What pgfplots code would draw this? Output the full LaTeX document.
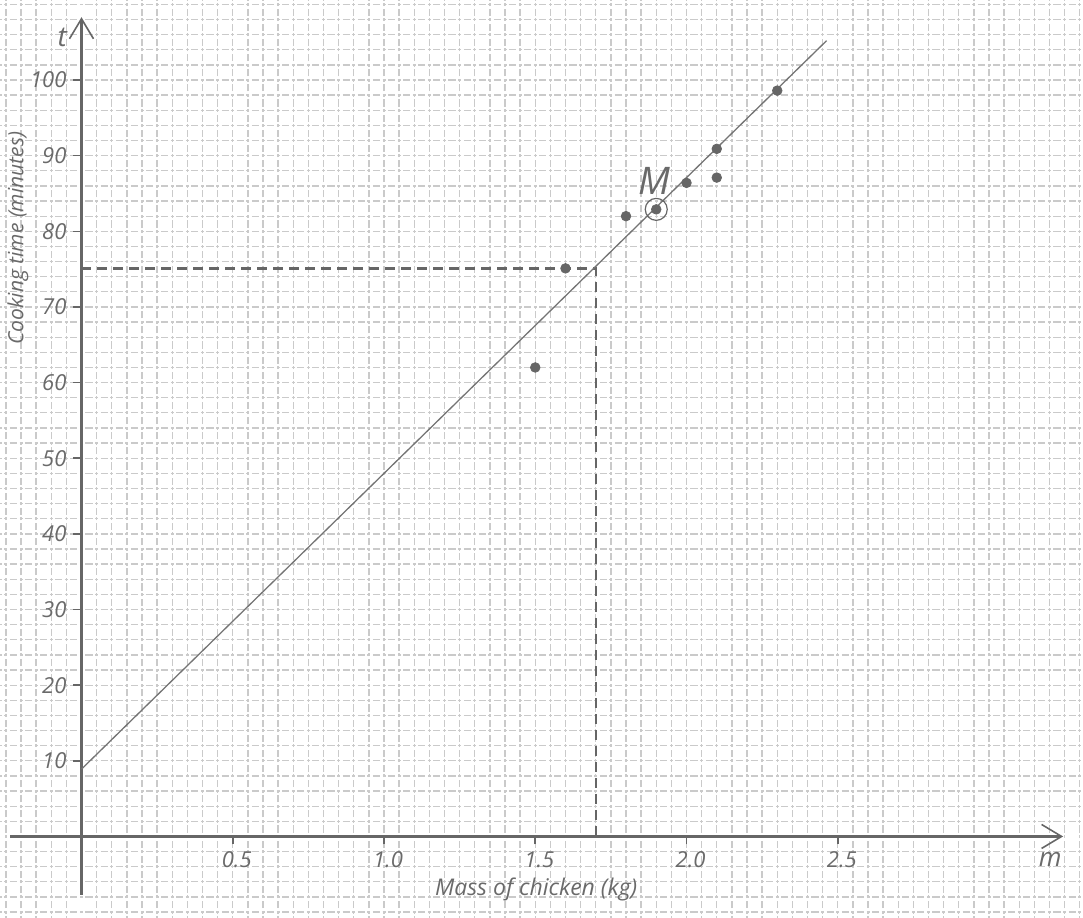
\documentclass[border=0pt]{standalone}
\usepackage{pgfplots}
\pgfplotsset{compat=1.18}
\usepackage{fontspec}
\setmainfont{Open Sans}
\usetikzlibrary{arrows.meta}
\definecolor{gridgray}{HTML}{CACACA}
\definecolor{inkgray}{HTML}{666666}
\definecolor{txtgray}{HTML}{6A6A6A}
\definecolor{linegray}{HTML}{747474}
\begin{document}
\begin{tikzpicture}
\begin{axis}[
  scale only axis,
  width=541.5pt, height=459pt,
  xmin=-0.2694, xmax=3.3107,
  ymin=-10.777, ymax=110.58,
  axis lines=middle,
  axis line style={draw=none},
  clip=false,
  xtick={-0.25,-0.2,...,3.31},
  ytick={-10,-8,...,110},
  xticklabels={}, yticklabels={},
  major tick length=0pt,
  grid=major,
  major grid style={gridgray, line width=0.65pt,
    dash pattern=on 1.5pt off 1.2pt on 3.6pt off 1.2625pt, dash phase=5.375pt},
  extra x ticks={0.5,1,1.5,2,2.5},
  extra x tick labels={0.5,1.0,1.5,2.0,2.5},
  extra y ticks={10,20,30,40,50,60,70,80,90,100},
  extra y tick labels={10,20,30,40,50,60,70,80,90,100},
  extra tick style={grid=none, major tick length=4pt, tick align=outside,
    tick style={inkgray, line width=0.8pt}},
  /pgf/number format/assume math mode=true,
  tick label style={font=\itshape\fontsize{11}{13}\selectfont, text=txtgray},
  xticklabel style={xshift=2pt},
  xlabel={Mass of chicken (kg)},
  ylabel={Cooking time (minutes)},
  every axis x label/.style={at={(axis cs:1.503,-7.07)}, anchor=center,
    font=\itshape\fontsize{11.5}{13}\selectfont, text=txtgray},
  every axis y label/.style={at={(axis cs:-0.21,79.1)}, anchor=center, rotate=90,
    font=\itshape\fontsize{10.5}{12}\selectfont, text=txtgray},
]
% axes with arrows
\addplot[inkgray, line width=1.1pt, -{Straight Barb[length=10pt, width=12pt, line width=0.8pt]}]
  coordinates {(-0.236,0) (3.245,0)};
\addplot[inkgray, line width=1.1pt, -{Straight Barb[length=10pt, width=12pt, line width=0.8pt]}]
  coordinates {(0,-7.7) (0,108.3)};
% dashed guide lines
\addplot[inkgray, line width=1.25pt, dash pattern=on 5pt off 3pt]
  coordinates {(0,75.1) (1.7,75.1) (1.7,0)};
% line of best fit
\addplot[linegray, line width=0.65pt] coordinates {(0,8.9) (2.463,105.2)};
% data points
\addplot[only marks, mark=*, mark size=2.4pt, color=inkgray]
  coordinates {(1.5,62.0) (1.6,75.1) (1.8,82.0) (1.9,82.9) (2.0,86.4) (2.1,90.9) (2.1,87.1) (2.3,98.6)};
% mean point circle
\addplot[only marks, mark=o, mark size=5.5pt, color=inkgray, mark options={line width=0.6pt}]
  coordinates {(1.9,82.9)};
\node[text=txtgray, font=\itshape\fontsize{19}{21}\selectfont] at (axis cs:1.893,86.6) {M};
\node[text=txtgray, font=\itshape\fontsize{14}{16}\selectfont] at (axis cs:-0.064,105.6) {t};
\node[text=txtgray, font=\itshape\fontsize{13}{15}\selectfont] at (axis cs:3.202,-3.0) {m};
\end{axis}
\pgfresetboundingbox
\path (current axis.south west) rectangle (current axis.north east);
\end{tikzpicture}
\end{document}
